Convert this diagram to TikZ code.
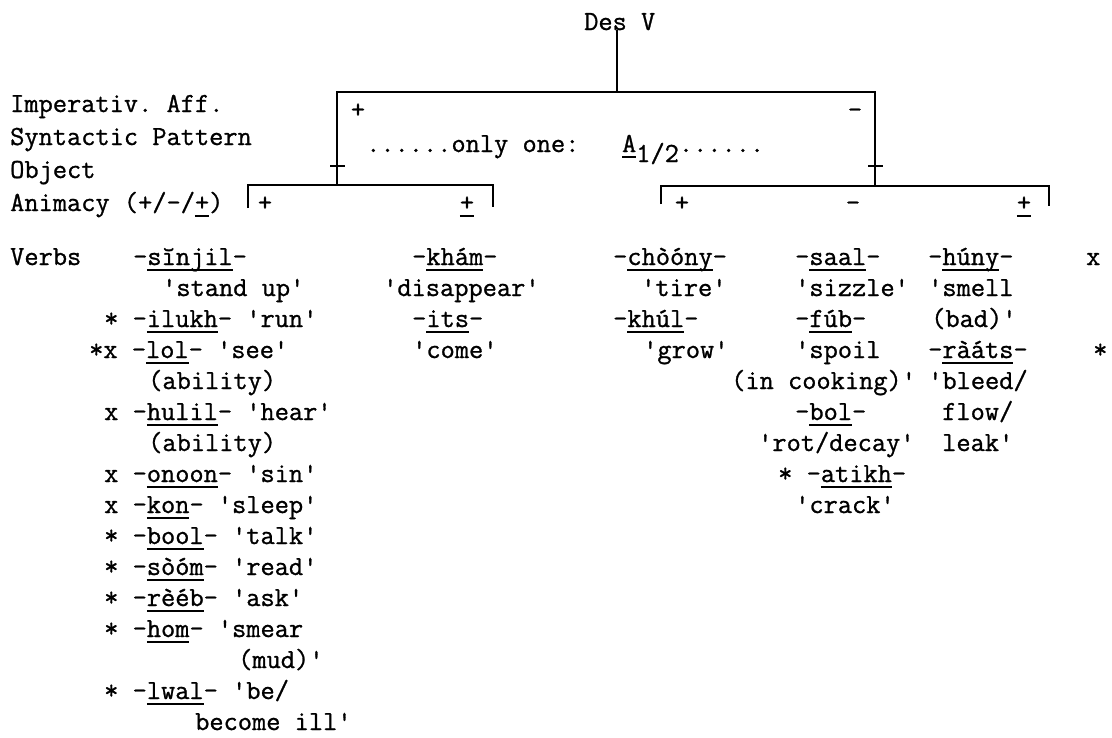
\documentclass[tikz,border=0pt]{standalone}
\usepackage{fontspec}
\newfontfamily\typewr{Latin Modern Mono}[FakeBold=1]
\usetikzlibrary{positioning}
\newcommand{\stem}[1]{\setbox0\hbox{#1}\rlap{\vrule height -3.5pt depth 5.5pt width \wd0}\box0}
\tikzset{
  tw/.style={font=\typewr\fontsize{27.6pt}{31pt}\selectfont\frenchspacing, inner sep=0pt, anchor=base west},
  sign/.style={tw, anchor=base},
  br/.style={line width=2pt}
}

\begin{document}
\begin{tikzpicture}[x=1pt, y=-1pt]
\useasboundingbox (0,0) rectangle (1112,737);

% tree
\node[tw] (desv) at (584,30) {Des V};
\coordinate (root) at (617,92);
\coordinate (apos) at (337,185);
\coordinate (aneg) at (875,185);
\draw[br] (desv.south -| root) -- (root);
\draw[br] (apos) |- (root) -| (aneg);
\draw[br] (330,166) -- (345,166);
\draw[br] (868,166) -- (883,166);

\coordinate (lb) at (248,185);
\coordinate (le) at (493,185);
\coordinate (rb) at (661,186);
\coordinate (re) at (1049,186);
\draw[br] (248,208) -- (lb) -- (le) -- (493,207);
\draw[br] (661,204) -- (rb) -- (re) -- (1049,206);

\node[sign] (tplus) at (358,118) {+};
\node[sign] (tminus) at (855,118) {-};
\node[tw] (only) at (366,152) {......only one:~~~\stem{A}\raisebox{-10pt}{1/2}......};
\node[sign] (lpos) at (265,211) {+};
\node[sign] (lpm) at (467,211) {\stem{+}};
\node[sign] (rpos) at (682,211) {+};
\node[sign] (rneg) at (853,211) {-};
\node[sign] (rpm) at (1024,211) {\stem{+}};

% feature labels
\node[tw] (imp) at (10,112) {Imperativ. Aff.};
\node[tw] (syn) at (10,145) {Syntactic Pattern};
\node[tw] (obj) at (10,178) {Object};
\node[tw] (anim) at (10,211) {Animacy (+/-/\stem{+})};

% verbs, + column
\node[tw] (verbs) at (10,265) {Verbs};
\foreach \k/\x/\txt in {0/133/{-\stem{sĭnjil}-}, 1/162/{'stand up'},
    2/104/{* -\stem{ilukh}- 'run'}, 3/89/{*x -\stem{lol}- 'see'},
    4/148/{(ability)}, 5/104/{x -\stem{hulil}- 'hear'},
    6/148/{(ability)}, 7/104/{x -\stem{onoon}- 'sin'},
    8/104/{x -\stem{kon}- 'sleep'}, 9/104/{* -\stem{bool}- 'talk'},
    10/104/{* -\stem{sòóm}- 'read'}, 11/104/{* -\stem{rèéb}- 'ask'},
    12/104/{* -\stem{hom}- 'smear}, 13/238/{(mud)'},
    14/104/{* -\stem{lwal}- 'be/}, 15/195/{become ill'}}
  \node[tw] (a\k) at (\x,{265+31*\k}) {\txt};

% verbs, +- column
\node[tw] (b0) at (412,265) {-\stem{khám}-};
\node[tw] (b1) at (383,296) {'disappear'};
\node[tw] (b2) at (412,327) {-\stem{its}-};
\node[tw] (b3) at (412,358) {'come'};

% verbs, right +
\node[tw] (c0) at (613,265) {-\stem{chòóny}-};
\node[tw] (c1) at (641,296) {'tire'};
\node[tw] (c2) at (613,327) {-\stem{khúl}-};
\node[tw] (c3) at (643,358) {'grow'};

% verbs, right -
\node[tw] (d0) at (795,265) {-\stem{saal}-};
\node[tw] (d1) at (795,296) {'sizzle'};
\node[tw] (d2) at (795,327) {-\stem{fúb}-};
\node[tw] (d3) at (795,358) {'spoil};
\node[tw] (d4) at (731,389) {(in cooking)'};
\node[tw] (d5) at (795,420) {-\stem{bol}-};
\node[tw] (d6) at (758,451) {'rot/decay'};
\node[tw] (d7) at (778,482) {* -\stem{atikh}-};
\node[tw] (d8) at (795,513) {'crack'};

% verbs, right +-
\node[tw] (e0) at (928,265) {-\stem{húny}-};
\node[tw] (e0m) at (1086,265) {x};
\node[tw] (e1) at (928,296) {'smell};
\node[tw] (e2) at (931,327) {(bad)'};
\node[tw] (e3) at (928,358) {-\stem{ràáts}-};
\node[tw] (e3m) at (1093,358) {*};
\node[tw] (e4) at (928,389) {'bleed/};
\node[tw] (e5) at (942,420) {flow/};
\node[tw] (e6) at (942,451) {leak'};

\end{tikzpicture}
\end{document}
